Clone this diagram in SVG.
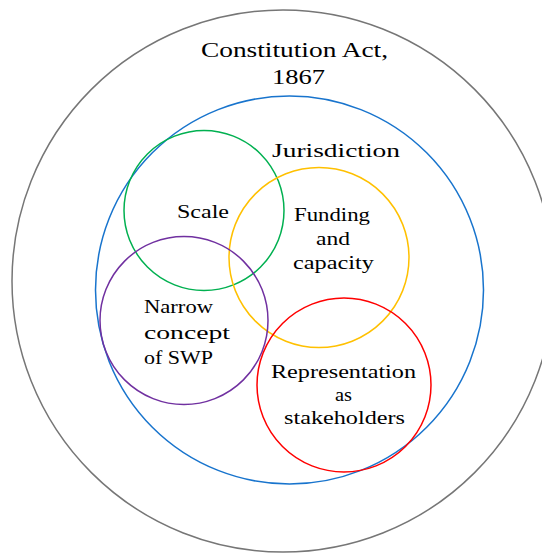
<svg xmlns="http://www.w3.org/2000/svg" width="542" height="554" viewBox="0 0 542 554">
<style>
circle{fill:none;stroke-width:1.5}
text{font-family:"Liberation Serif","DejaVu Serif",serif;fill:#000;font-size:19px}
.c{text-anchor:middle}
</style>
<rect width="542" height="554" fill="#fff"/>
<g id="circles">
<g id="constitution"><circle cx="283" cy="281" r="271" stroke="#767676"/></g>
<g id="jurisdiction"><circle cx="289.5" cy="290" r="194" stroke="#1874cd"/></g>
<g id="scale"><circle cx="204" cy="210.5" r="80" stroke="#00b050"/></g>
<g id="funding"><circle cx="319" cy="257.5" r="90" stroke="#ffc000"/></g>
<g id="narrow"><circle cx="184" cy="320.5" r="84" stroke="#7030a0"/></g>
<g id="representation"><circle cx="344" cy="385" r="87" stroke="#ff0000"/></g>
</g>
<g id="labels">
<text x="201" y="57" textLength="187" lengthAdjust="spacingAndGlyphs" style="font-size:20px">Constitution Act,</text>
<text x="272" y="84" textLength="53" lengthAdjust="spacingAndGlyphs" style="font-size:20px">1867</text>
<text x="272" y="157" textLength="128" lengthAdjust="spacingAndGlyphs">Jurisdiction</text>
<text x="177" y="218" textLength="52" lengthAdjust="spacingAndGlyphs">Scale</text>
<text x="294" y="221" textLength="76" lengthAdjust="spacingAndGlyphs">Funding</text>
<text x="316" y="245" textLength="34" lengthAdjust="spacingAndGlyphs">and</text>
<text x="293" y="269" textLength="81" lengthAdjust="spacingAndGlyphs">capacity</text>
<text x="144" y="313" textLength="69" lengthAdjust="spacingAndGlyphs">Narrow</text>
<text x="144" y="339" textLength="86" lengthAdjust="spacingAndGlyphs">concept</text>
<text x="144" y="364" textLength="69" lengthAdjust="spacingAndGlyphs">of SWP</text>
<text x="271" y="378" textLength="145" lengthAdjust="spacingAndGlyphs">Representation</text>
<text x="335" y="401" textLength="17" lengthAdjust="spacingAndGlyphs">as</text>
<text x="284" y="424" textLength="121" lengthAdjust="spacingAndGlyphs">stakeholders</text>
</g>
</svg>
